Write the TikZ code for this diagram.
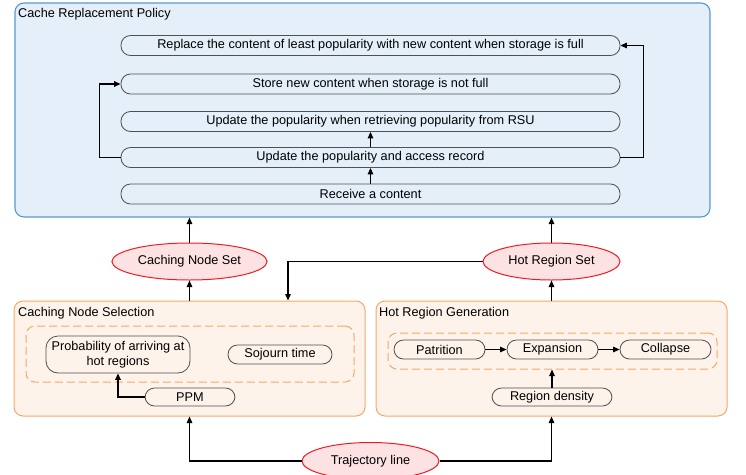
\documentclass[tikz,border=0pt]{standalone}
\usepackage{fontspec}
\setmainfont{Liberation Sans}
\usepackage{xcolor}
\usepackage{tikz}
\usetikzlibrary{positioning, arrows.meta, shapes.geometric}

\definecolor{policyfill}{RGB}{228,239,250}
\definecolor{policyline}{RGB}{86,152,214}
\definecolor{stagefill}{RGB}{254,243,234}
\definecolor{stageline}{RGB}{247,168,104}
\definecolor{setfill}{RGB}{253,226,228}
\definecolor{setline}{RGB}{236,28,36}
\definecolor{pillline}{RGB}{80,80,80}

\begin{document}
\begin{tikzpicture}[
  x=1pt, y=-1pt,
  every node/.style={font=\fontsize{12.7}{15}\selectfont},
  panel/.style    ={rectangle, draw=policyline, fill=policyfill, line width=1.1pt,
                    rounded corners=9pt},
  stage/.style    ={rectangle, draw=stageline, fill=stagefill, line width=1pt,
                    rounded corners=9pt},
  group/.style    ={rectangle, draw=stageline, dashed, dash pattern=on 8pt off 4pt,
                    line width=1pt, rounded corners=9pt},
  pill/.style     ={rectangle, draw=pillline, line width=0.8pt, rounded corners=9.5pt,
                    inner sep=0pt},
  dataset/.style  ={ellipse, draw=setline, fill=setfill, line width=1pt,
                    minimum width=137pt, minimum height=37pt},
  heading/.style  ={anchor=west, inner sep=0pt},
  conn/.style     ={->, line width=1.3pt},
  >={Triangle[length=6.5pt,width=5.5pt]}
]
\useasboundingbox (0,0) rectangle (746,474);

%--- Cache replacement policy ----------------------------------------------
\node[panel, minimum width=695pt, minimum height=214pt] (policy) at (362.5,110) {};
\node[heading] (policytitle) at (18,14) {Cache Replacement Policy};

\node[pill, fill=policyfill, minimum width=499pt, minimum height=20pt] (replace) at (370.5,45.5)
  {Replace the content of least popularity with new content when storage is full};
\node[pill, fill=policyfill, minimum width=499pt, minimum height=20pt] (store)   at (370.5,84)
  {Store new content when storage is not full};
\node[pill, fill=policyfill, minimum width=499pt, minimum height=20pt] (retrieve) at (370.5,121.5)
  {Update the popularity when retrieving popularity from RSU};
\node[pill, fill=policyfill, minimum width=499pt, minimum height=20pt] (update)  at (370.5,157.5)
  {Update the popularity and access record};
\node[pill, fill=policyfill, minimum width=499pt, minimum height=20pt] (receive) at (370.5,194)
  {Receive a content};

%--- Output sets -----------------------------------------------------------
\node[dataset] (cachingset) at (189.5,261.5) {Caching Node Set};
\node[dataset] (hotset)     at (551.5,261.5) {Hot Region Set};

%--- Caching node selection ------------------------------------------------
\node[stage, minimum width=351pt, minimum height=115pt] (selection) at (189.5,358.5) {};
\node[heading] (selectiontitle) at (18,313) {Caching Node Selection};
\node[group, minimum width=328pt, minimum height=56pt] (selgroup) at (190,354) {};

\node[pill, rounded corners=12pt, minimum width=144pt, minimum height=37pt] (prob) at (118,354.5)
  {\begin{tabular}{@{}c@{}}Probability of arriving at\\hot regions\end{tabular}};
\node[pill, minimum width=104pt, minimum height=19pt] (sojourn) at (280,354.5) {Sojourn time};
\node[pill, fill=stagefill, minimum width=90pt, minimum height=18pt] (ppm) at (190,397) {PPM};

%--- Hot region generation -------------------------------------------------
\node[stage, minimum width=351pt, minimum height=115pt] (generation) at (551.5,358.5) {};
\node[heading] (generationtitle) at (379,313) {Hot Region Generation};
\node[group, minimum width=329pt, minimum height=36pt] (gengroup) at (552.5,351) {};

\node[pill, minimum width=91pt, minimum height=19pt] (patrition) at (439.5,349.5) {Patrition};
\node[pill, minimum width=91pt, minimum height=19pt] (expansion) at (552.5,349.5) {Expansion};
\node[pill, minimum width=91pt, minimum height=19pt] (collapse)  at (665.5,349.5) {Collapse};
\node[pill, fill=stagefill, minimum width=120pt, minimum height=18pt] (density) at (552,397) {Region density};

%--- Input -----------------------------------------------------------------
\node[dataset] (trajectory) at (370.5,461) {Trajectory line};

%--- connection ------------------------------------------------------------
\draw[conn] (receive)  -- (update);
\draw[conn] (update)   -- (retrieve);
\draw[conn] (update.west) -- ++(-21,0) |- (store.west);
\draw[conn] (update.east) -- ++(23,0)  |- (replace.east);

\draw[conn] (cachingset.north) -- (policy.south -| cachingset);
\draw[conn] (hotset.north)     -- (policy.south -| hotset);
\draw[conn] (selection.north)  -- (cachingset.south);
\draw[conn] (generation.north) -- (hotset.south);
\draw[conn] (hotset.west) -| ([xshift=98.5pt]selection.north);

\draw[conn] (ppm.west) -| (prob.south);
\draw[->, line width=1pt] (patrition) -- (expansion);
\draw[->, line width=1pt] (expansion) -- (collapse);
\draw[conn] (density.north) -- (gengroup.south -| density);

\draw[conn] (trajectory.west) -| (selection.south);
\draw[conn] (trajectory.east) -| (generation.south);
\end{tikzpicture}
\end{document}
